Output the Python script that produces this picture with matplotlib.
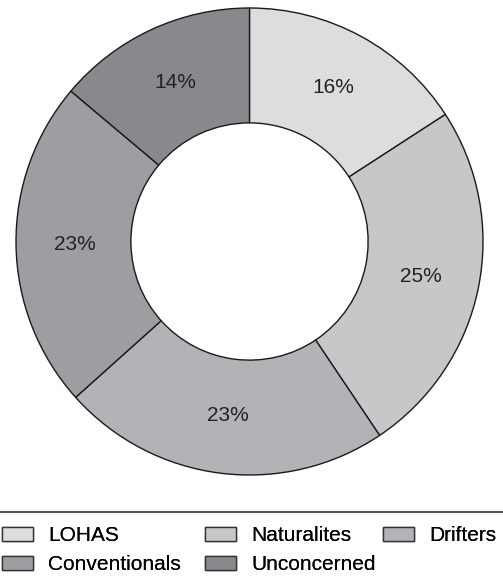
import matplotlib.pyplot as plt
from matplotlib.lines import Line2D
from matplotlib.patches import Patch

plt.rcParams["font.family"] = ["Liberation Sans", "DejaVu Sans"]

segments = ["LOHAS", "Naturalites", "Drifters", "Conventionals", "Unconcerned"]
shares = [16, 25, 23, 23, 14]
colors = ["#dcdddf", "#c6c7c9", "#b2b3b6", "#9d9ea1", "#88898c"]

fig = plt.figure(figsize=(5.03, 5.82), dpi=100)
ax = fig.add_axes([16 / 503, 107 / 582, 467 / 503, 467 / 582])

ax.pie(
    shares,
    colors=colors,
    startangle=90,
    counterclock=False,
    radius=1.0,
    labels=[f"{v}%" for v in shares],
    labeldistance=0.75,
    wedgeprops=dict(width=0.492, edgecolor="#1a1a1a", linewidth=1.0),
    textprops=dict(fontsize=15, color="#222222", ha="center", va="center"),
)
ax.set_xlim(-1, 1)
ax.set_ylim(-1, 1)
ax.set_aspect("equal")
ax.set_axis_off()

# separator line above the legend
fig.add_artist(Line2D([0, 1], [1 - 512 / 582] * 2, transform=fig.transFigure,
                      color="#555555", linewidth=1.5))

handles = [Patch(facecolor=c, edgecolor="#333333", linewidth=1.0) for c in colors]
columns = [[0, 3], [1, 4], [2]]
col_x = [0 / 503, 203 / 503, 381 / 503]
for idx, x in zip(columns, col_x):
    leg = fig.legend(
        [handles[i] for i in idx],
        [segments[i] for i in idx],
        loc="upper left",
        bbox_to_anchor=(x, 1 - 524 / 582),
        frameon=False,
        fontsize=15,
        handlelength=1.5,
        handleheight=0.68,
        handletextpad=0.7,
        labelspacing=0.5,
        borderaxespad=0.0,
        borderpad=0.1,
    )
    fig.add_artist(leg)

fig.savefig("out.png", dpi=100)
